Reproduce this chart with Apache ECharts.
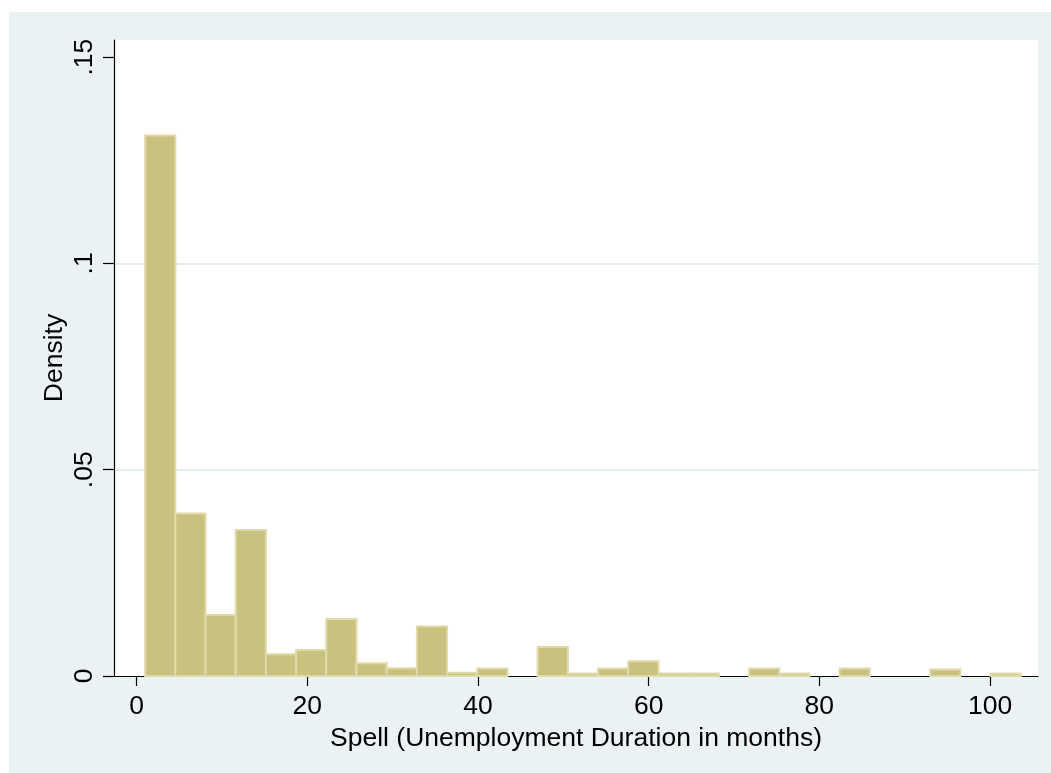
<!DOCTYPE html>
<html>
<head>
<meta charset="utf-8">
<title>Spell histogram</title>
<script src="https://cdn.jsdelivr.net/npm/echarts@6/dist/echarts.min.js"></script>
<style>
  html, body { margin: 0; padding: 0; background: #ffffff; }
  #chart { width: 1051px; height: 773px; }
</style>
</head>
<body>
<div id="chart"></div>
<script>
// Histogram of unemployment spell lengths (months), density scale
const binStart = 1;
const binWidth = 3.538;
const densities = [
  0.1310, 0.0394, 0.0148, 0.0354, 0.0053, 0.0063, 0.0138, 0.0031, 0.0019, 0.0120,
  0.0008, 0.0018, 0.0000, 0.0070, 0.0006, 0.0018, 0.0036, 0.0006, 0.0006, 0.0000,
  0.0018, 0.0006, 0.0000, 0.0018, 0.0000, 0.0000, 0.0016, 0.0000, 0.0006
];
const xTicks = [0, 20, 40, 60, 80, 100];
const yTicks = [0, 0.05, 0.1, 0.15];
const xTitle = 'Spell (Unemployment Duration in months)';
const yTitle = 'Density';

// [bin start, bin end, density] rows for the custom series
const bins = densities.map(function (d, i) {
  const lo = binStart + i * binWidth;
  return [lo, lo + binWidth, d];
});

const FONT = 'Liberation Sans, Arial, sans-serif';

const chart = echarts.init(document.getElementById('chart'), null, { renderer: 'canvas' });

chart.setOption({
  backgroundColor: '#ffffff',
  animation: false,
  graphic: {
    elements: [{
      type: 'rect',
      z: -100,
      silent: true,
      shape: { x: 9, y: 12, width: 1042, height: 761 },
      style: { fill: '#EAF2F3' }
    }]
  },
  grid: {
    show: true,
    left: 114, top: 40, right: 13, bottom: 97,
    backgroundColor: '#ffffff',
    borderWidth: 0
  },
  xAxis: {
    type: 'value',
    min: -2.648,
    max: 105.62,
    name: xTitle,
    nameLocation: 'middle',
    nameGap: 44,
    nameTextStyle: { fontFamily: FONT, fontSize: 26.5, color: '#000' },
    axisLine: { show: true, onZero: false, lineStyle: { color: '#000', width: 1.2 } },
    axisTick: { show: true, length: 10, customValues: xTicks, lineStyle: { color: '#000', width: 1.2 } },
    axisLabel: {
      customValues: xTicks,
      margin: 17,
      fontFamily: FONT, fontSize: 26.5, color: '#000'
    },
    splitLine: { show: false }
  },
  yAxis: {
    type: 'value',
    min: 0,
    max: 0.15415,
    interval: 0.05,
    name: yTitle,
    nameLocation: 'middle',
    nameRotate: 90,
    nameGap: 46,
    nameMoveOverlap: false,
    nameTextStyle: { fontFamily: FONT, fontSize: 26.5, color: '#000' },
    axisLine: { show: true, onZero: false, lineStyle: { color: '#000', width: 1.2 } },
    axisTick: { show: true, length: 11, customValues: yTicks, lineStyle: { color: '#000', width: 1.2 } },
    axisLabel: {
      customValues: yTicks,
      rotate: 90,
      margin: 16,
      fontFamily: FONT, fontSize: 26.5, color: '#000',
      formatter: function (v) {
        return v === 0 ? '0' : String(+v.toFixed(4)).replace(/^0/, '');
      }
    },
    splitLine: {
      show: true,
      showMinLine: false,
      showMaxLine: false,
      lineStyle: { color: '#E3EDF0', width: 2 }
    }
  },
  series: [{
    type: 'custom',
    data: bins,
    encode: { x: [0, 1], y: 2 },
    renderItem: function (params, api) {
      const h = api.value(2);
      if (!(h > 0)) return null;
      const p0 = api.coord([api.value(0), 0]);
      const p1 = api.coord([api.value(1), h]);
      return {
        type: 'rect',
        shape: { x: p0[0], y: p1[1], width: p1[0] - p0[0], height: p0[1] - p1[1] },
        style: { fill: '#C9C27E', stroke: '#DFDAA9', lineWidth: 2 }
      };
    }
  }]
});
</script>
</body>
</html>
